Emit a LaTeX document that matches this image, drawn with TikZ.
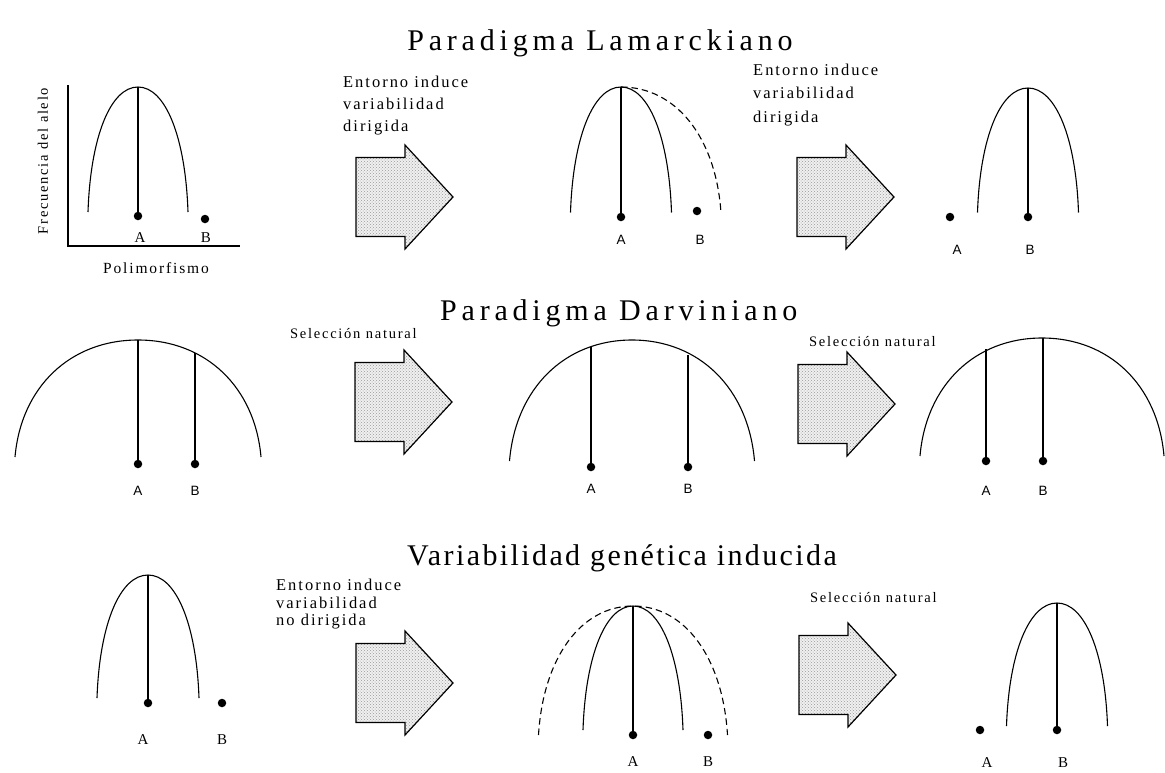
\documentclass[tikz,border=0pt]{standalone}
\usepackage{fontspec}
\setmainfont{Liberation Serif}
\newfontfamily\titlefont[LetterSpace=16]{Liberation Serif}
\newfontfamily\subtitlefont[LetterSpace=8]{Liberation Serif}
\newfontfamily\notefont[LetterSpace=12]{Liberation Serif}
\newfontfamily\smallsans{Liberation Sans}
\usetikzlibrary{patterns}

\tikzset{
  curve/.style={line width=1.1pt, black},
  dashedcurve/.style={line width=1.1pt, black, dash pattern=on 6.5pt off 4pt},
  stem/.style={line width=1.4pt, black},
  axis/.style={line width=1.2pt, black},
  dot/.style={circle, fill=black, inner sep=0pt, minimum size=8.5pt},
  labser/.style={inner sep=0pt, font=\fontsize{15}{18}\selectfont},
  labsans/.style={inner sep=0pt, font=\smallsans\fontsize{13.5}{16}\selectfont},
  note/.style={inner sep=0pt, anchor=base west, font=\notefont\fontsize{16.5}{20}\selectfont},
  selnote/.style={inner sep=0pt, anchor=base west, font=\notefont\fontsize{14.5}{17}\selectfont},
  headline/.style={inner sep=0pt, font=\titlefont\fontsize{30}{36}\selectfont},
  subheadline/.style={inner sep=0pt, font=\subtitlefont\fontsize{30}{36}\selectfont},
  fatarrow/.style={draw=black, line width=1.2pt, line join=miter,
    preaction={fill=black!6}, pattern=crosshatch dots, pattern color=black!40},
}

% dome: [style] {cx}{ytop}{half width}{ybottom}
\newcommand\dome[5][curve]{%
  \draw[#1] ({#2-#4},#5) .. controls ({#2-0.95*#4},{#5-0.6*(#5-#3)}) and ({#2-0.55*#4},#3) ..
    (#2,#3) .. controls ({#2+0.55*#4},#3) and ({#2+0.95*#4},{#5-0.6*(#5-#3)}) .. ({#2+#4},#5);}
% right half of a dome
\newcommand\halfdome[5][curve]{%
  \draw[#1] (#2,#3) .. controls ({#2+0.55*#4},#3) and ({#2+0.95*#4},{#5-0.6*(#5-#3)}) .. ({#2+#4},#5);}
% block arrow: {left x}{centre y}
\newcommand\blockarrow[2]{%
  \path[fatarrow] (#1,{#2-39.5}) -- ++(49,0) -- ++(0,-12.5) -- ++(48,52) -- ++(-48,52)
    -- ++(0,-12.5) -- ++(-49,0) -- cycle;}

\begin{document}
\begin{tikzpicture}[x=1pt,y=-1pt]
\useasboundingbox (0,0) rectangle (1165,772);
\fill[white] (0,0) rectangle (1165,772);

% ---------------- Paradigma Lamarckiano ----------------
\node[headline, anchor=base] (t1) at (600,50) {Paradigma Lamarckiano};

% panel 1 with axes
\draw[axis] (68,85) -- (68,246) -- (240,246);
\node[inner sep=0pt, rotate=90, font=\notefont\fontsize{14.5}{16}\selectfont] (ylab) at (43,161) {Frecuencia del alelo};
\node[inner sep=0pt, font=\notefont\fontsize{15.5}{18}\selectfont] (xlab) at (156,268) {Polimorfismo};
\dome{138}{87}{50}{212}
\node[dot] (l1a) at (138,216) {};
\node[dot] (l1b) at (205,219) {};
\draw[stem] (138,87) -- (l1a);
\node[labser] (l1A) at (140,238) {A};
\node[labser] (l1B) at (206,238) {B};

% arrow 1
\node[note] (n1a) at (343,87) {Entorno induce};
\node[note] (n1b) at (343,109) {variabilidad};
\node[note] (n1c) at (343,131) {dirigida};
\blockarrow{356}{197}

% panel 2
\dome{621}{87}{50.5}{212.5}
\halfdome[dashedcurve]{621}{87}{100}{213}
\node[dot] (l2a) at (621,217) {};
\node[dot] (l2b) at (697,211) {};
\draw[stem] (621,87) -- (l2a);
\node[labsans] (l2A) at (621,240) {A};
\node[labsans] (l2B) at (700,240) {B};

% arrow 2
\node[note] (n2a) at (753,75) {Entorno induce};
\node[note] (n2b) at (753,98) {variabilidad};
\node[note] (n2c) at (753,122) {dirigida};
\blockarrow{797}{197}

% panel 3
\dome{1028}{88}{50.5}{212.5}
\node[dot] (l3b) at (1028,217) {};
\node[dot] (l3a) at (950,217) {};
\draw[stem] (1028,88) -- (l3b);
\node[labsans] (l3A) at (957,250) {A};
\node[labsans] (l3B) at (1030,250) {B};

% ---------------- Paradigma Darviniano ----------------
\node[headline, anchor=base west] (t2) at (440,320) {Paradigma Darviniano};

% panel 1
\dome{138}{340}{123}{457}
\node[dot] (d1a) at (138,464) {};
\node[dot] (d1b) at (195,464) {};
\draw[stem] (138,340) -- (d1a);
\draw[stem] (195,353) -- (d1b);
\node[labsans] (d1A) at (138,491) {A};
\node[labsans] (d1B) at (195,491) {B};

% arrow 1
\node[selnote] (s1) at (290,338) {Selección natural};
\blockarrow{355}{402}

% panel 2
\dome{632}{340}{122.5}{461}
\node[dot] (d2a) at (591,467) {};
\node[dot] (d2b) at (688,467) {};
\draw[stem] (591,347) -- (d2a);
\draw[stem] (688,355) -- (d2b);
\node[labsans] (d2A) at (591,489) {A};
\node[labsans] (d2B) at (688,489) {B};

% arrow 2
\node[selnote] (s2) at (809,346) {Selección natural};
\blockarrow{798}{404}

% panel 3
\dome{1042}{338}{122}{456}
\node[dot] (d3a) at (986,461) {};
\node[dot] (d3b) at (1043,461) {};
\draw[stem] (986,349) -- (d3a);
\draw[stem] (1043,338) -- (d3b);
\node[labsans] (d3A) at (986,491) {A};
\node[labsans] (d3B) at (1043,491) {B};

% ---------------- Variabilidad genetica inducida ----------------
\node[subheadline, anchor=base west] (t3) at (407,565) {Variabilidad genética inducida};

% panel 1
\dome{148}{575}{51}{698}
\node[dot] (v1a) at (148,703) {};
\node[dot] (v1b) at (222,703) {};
\draw[stem] (148,575) -- (v1a);
\node[labser] (v1A) at (143,740) {A};
\node[labser] (v1B) at (222,740) {B};

% arrow 1
\node[note] (n3a) at (276,590) {Entorno induce};
\node[note] (n3b) at (276,608) {variabilidad};
\node[note] (n3c) at (276,625) {no dirigida};
\blockarrow{356}{683}

% panel 2
\dome{633}{606}{50}{730}
\dome[dashedcurve]{633}{606}{94.5}{735}
\node[dot] (v2a) at (633,735) {};
\node[dot] (v2b) at (708,735) {};
\draw[stem] (633,606) -- (v2a);
\node[labser] (v2A) at (633,762) {A};
\node[labser] (v2B) at (708,762) {B};

% arrow 2
\node[selnote] (s3) at (810,602) {Selección natural};
\blockarrow{799}{675}

% panel 3
\dome{1057}{603}{50.5}{726}
\node[dot] (v3b) at (1057,730) {};
\node[dot] (v3a) at (980,730) {};
\draw[stem] (1057,603) -- (v3b);
\node[labser] (v3A) at (987,763) {A};
\node[labser] (v3B) at (1063,763) {B};
\end{tikzpicture}
\end{document}
